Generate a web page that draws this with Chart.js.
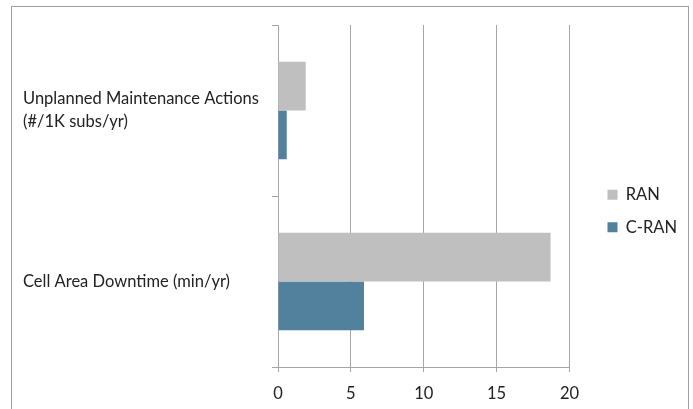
<!DOCTYPE html>
<html>
<head>
<meta charset="utf-8">
<script src="https://cdn.jsdelivr.net/npm/chart.js@4.4.1/dist/chart.umd.min.js"></script>
<style>
  html, body { margin: 0; padding: 0; background: #ffffff; }
  #wrap { width: 693px; height: 409px; position: relative; }
</style>
</head>
<body>
<div id="wrap"><canvas id="c" width="693" height="409"></canvas></div>
<script>
const categories = [
  ['Unplanned Maintenance Actions', '(#/1K subs/yr)'],
  'Cell Area Downtime (min/yr)'
];
const seriesNames = ['RAN', 'C-RAN'];
const ranValues = [1.9, 18.7];
const cranValues = [0.6, 5.9];
const xTicks = [0, 5, 10, 15, 20];

const FONT = { family: 'Lato, "Open Sans", sans-serif', size: 16.5, lineHeight: 1.4 };
const GRID = '#A6A6A6';

const borderPlugin = {
  id: 'outerBorder',
  beforeDraw(chart) {
    const ctx = chart.ctx;
    ctx.save();
    ctx.fillStyle = '#ffffff';
    ctx.fillRect(0, 0, chart.width, chart.height);
    ctx.strokeStyle = '#A0A0A0';
    ctx.lineWidth = 1;
    ctx.strokeRect(11.5, 6.5, 677, 430);
    ctx.restore();
  },
  afterLayout(chart) {
    const lg = chart.legend;
    if (lg) {
      lg.top -= 6;
      lg.bottom -= 6;
      lg.left += 22;
      lg.right += 22;
    }
  }
};

new Chart(document.getElementById('c'), {
  type: 'bar',
  data: {
    labels: categories,
    datasets: [
      { label: seriesNames[0], data: ranValues, backgroundColor: '#BFBFBF' },
      { label: seriesNames[1], data: cranValues, backgroundColor: '#52819E' }
    ]
  },
  options: {
    indexAxis: 'y',
    responsive: false,
    animation: false,
    devicePixelRatio: 1,
    datasets: { bar: { categoryPercentage: 0.57, barPercentage: 1.0 } },
    layout: { padding: { left: 23, top: 25, right: 28, bottom: 0 } },
    plugins: {
      legend: {
        position: 'right',
        align: 'center',
        labels: {
          boxWidth: 10, boxHeight: 10, padding: 16,
          color: '#222', font: FONT
        }
      },
      tooltip: { enabled: false }
    },
    scales: {
      x: {
        min: 0, max: 20,
        afterBuildTicks(scale) { scale.ticks = xTicks.map(v => ({ value: v })); },
        afterFit(scale) { scale.height = 42; },
        grid: { color: GRID, drawOnChartArea: true, drawTicks: true, tickLength: 5, tickColor: GRID },
        border: { display: true, color: GRID },
        ticks: { color: '#222', font: FONT, padding: 10 }
      },
      y: {
        afterFit(scale) { scale.width = 255; },
        grid: { drawOnChartArea: false, drawTicks: true, tickLength: 6, tickColor: GRID, offset: true },
        border: { display: true, color: GRID },
        ticks: { color: '#222', font: FONT, crossAlign: 'far', padding: 10 }
      }
    }
  },
  plugins: [borderPlugin]
});
</script>
</body>
</html>
